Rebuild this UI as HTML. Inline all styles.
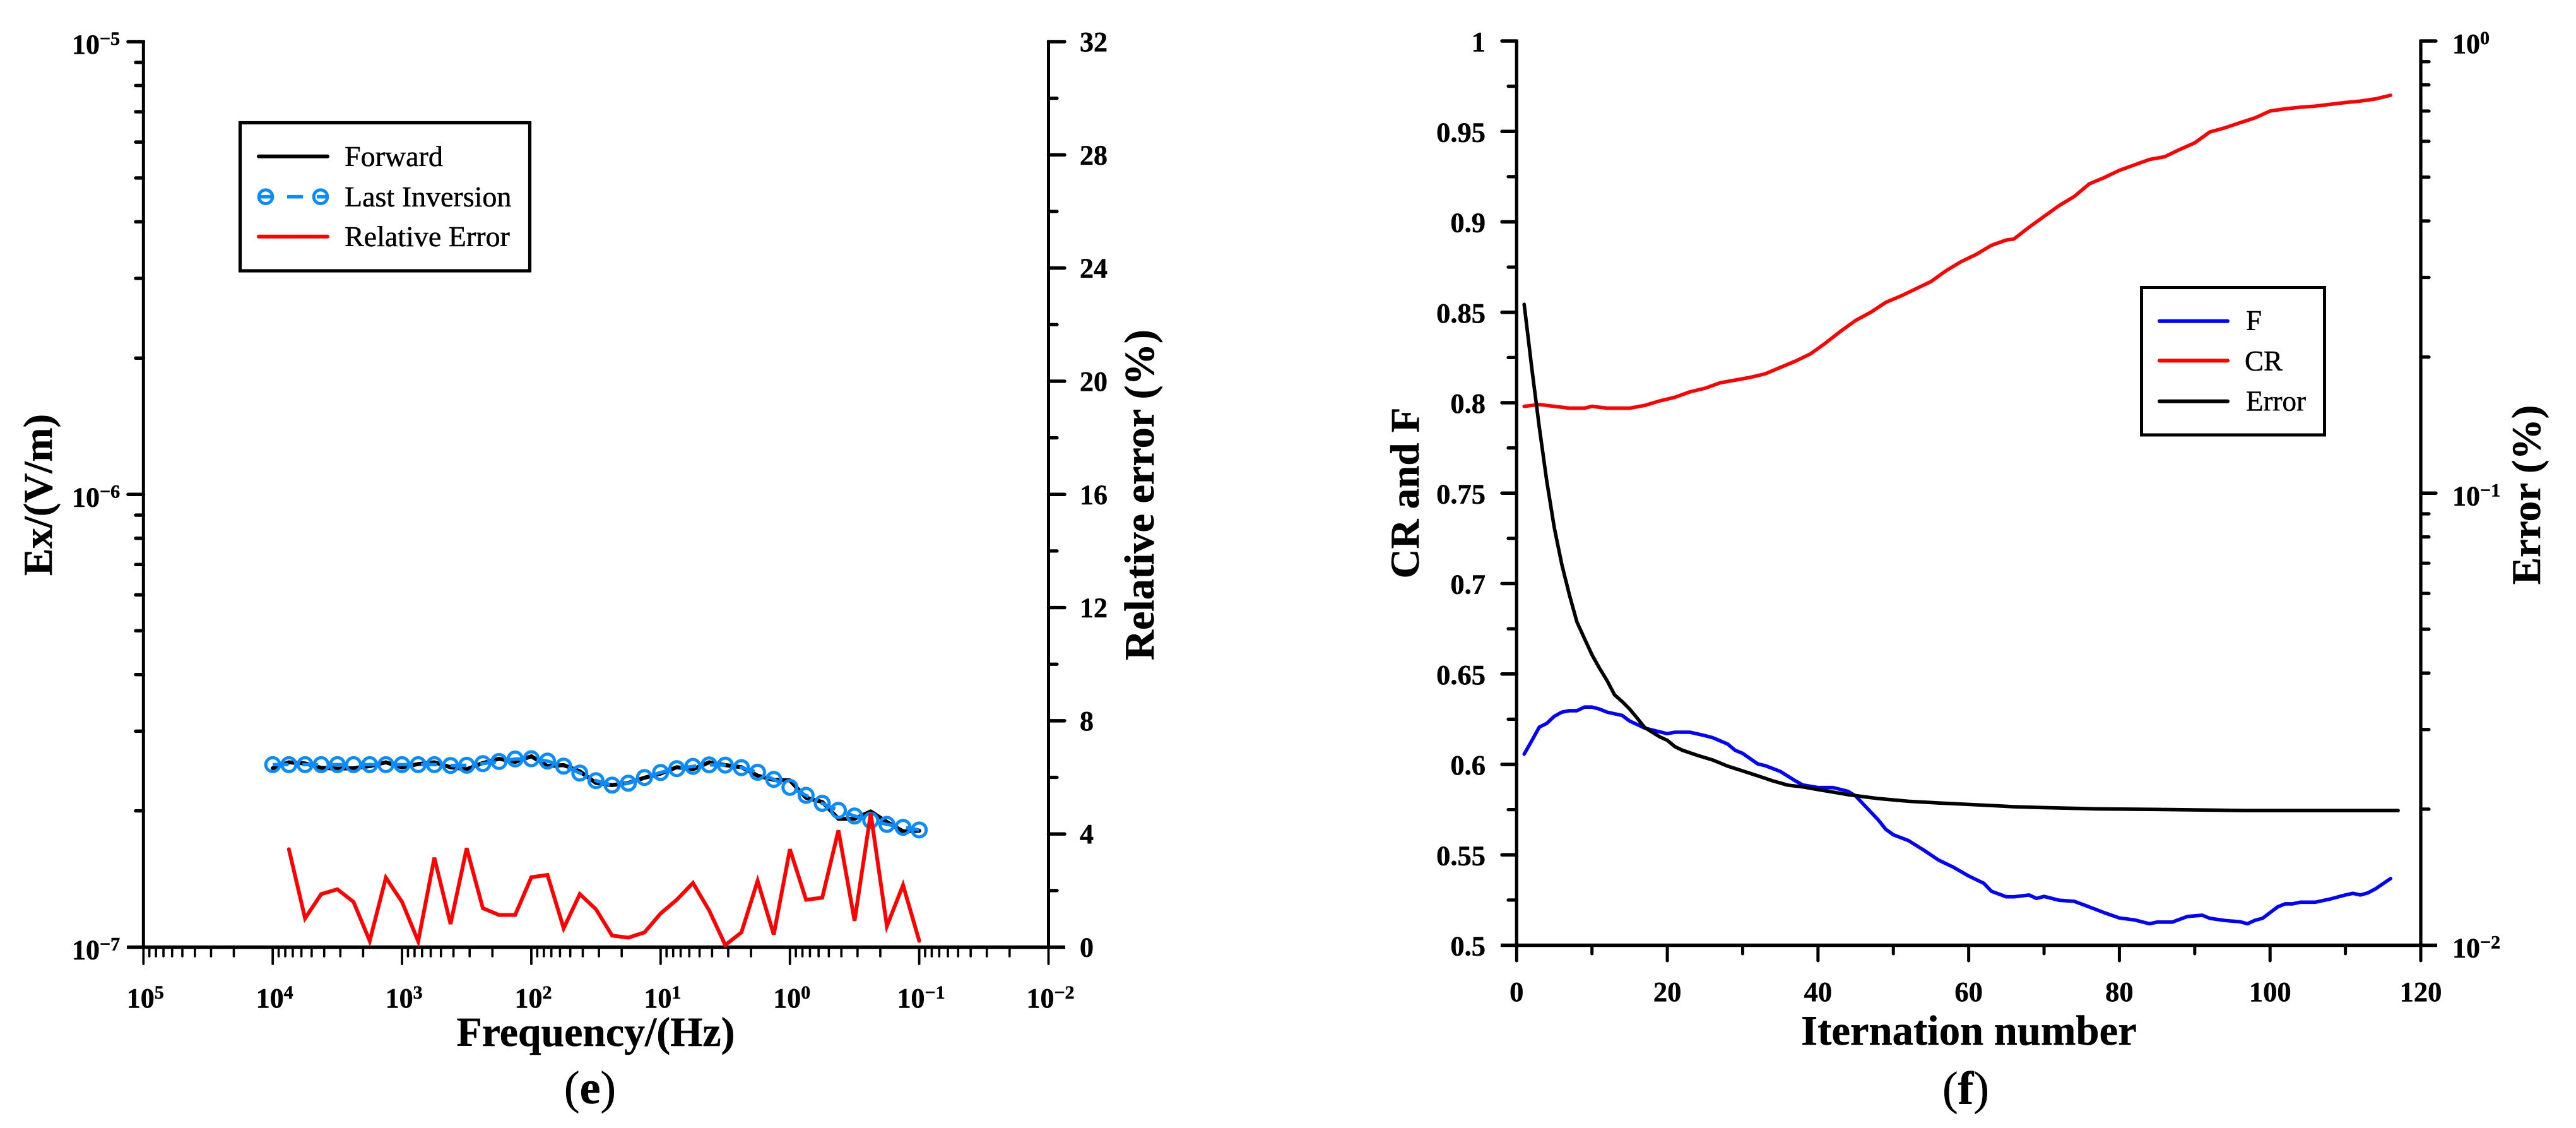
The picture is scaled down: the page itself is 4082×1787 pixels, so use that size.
<!DOCTYPE html>
<html lang="en">
<head>
<meta charset="utf-8">
<title>Inversion fit and convergence charts</title>
<style>
html,body{margin:0;padding:0;background:#fff;width:4082px;height:1787px;overflow:hidden}
svg{display:block}
text{font-family:"Liberation Serif",serif;fill:#000;stroke:#000;stroke-width:.5}
.b{font-weight:bold}
</style>
</head>
<body>
<svg id="fig" xmlns="http://www.w3.org/2000/svg" width="4082" height="1787" viewBox="0 0 4082 1787">
  <rect width="4082" height="1787" fill="#fff"/>
  <g id="panelE">
    <g id="eTicks"></g>
    <g id="eSeries"></g>
    <text class="b" x="944" y="1657" font-size="65.8" text-anchor="middle">Frequency/(Hz)</text>
    <text class="b" transform="translate(82,784) rotate(-90)" font-size="65" text-anchor="middle">Ex/(V/m)</text>
    <text class="b" transform="translate(1828,784) rotate(-90)" font-size="66.3" text-anchor="middle">Relative error (%)</text>
    <text x="935" y="1748" font-size="74" text-anchor="middle">(<tspan class="b">e</tspan>)</text>
    <g>
      <rect x="380.5" y="194.5" width="459" height="234.5" fill="#fff" stroke="#000" stroke-width="5.2"/>
      <line x1="410" y1="247.7" x2="519" y2="247.7" stroke="#000" stroke-width="6" stroke-linecap="round"/>
      <text x="546" y="263" font-size="46">Forward</text>
      <line x1="408" y1="311.7" x2="521" y2="311.7" stroke="#0a8cff" stroke-width="5.5" stroke-dasharray="25 22"/>
      <circle cx="421" cy="311.7" r="10.8" fill="none" stroke="#0a8cff" stroke-width="5"/>
      <circle cx="508" cy="311.7" r="10.8" fill="none" stroke="#0a8cff" stroke-width="5"/>
      <text x="546" y="327" font-size="46">Last Inversion</text>
      <line x1="410" y1="374.7" x2="519" y2="374.7" stroke="#f00" stroke-width="6" stroke-linecap="round"/>
      <text x="546" y="390" font-size="46">Relative Error</text>
    </g>
  </g>
  <g id="panelF">
    <g id="fTicks"></g>
    <g id="fSeries"></g>
    <text class="b" x="3120" y="1655" font-size="66.7" text-anchor="middle">Iternation number</text>
    <text class="b" transform="translate(2248,781) rotate(-90)" font-size="65" text-anchor="middle">CR and F</text>
    <text class="b" transform="translate(4025,784) rotate(-90)" font-size="65" text-anchor="middle">Error (%)</text>
    <text x="3115" y="1749" font-size="74" text-anchor="middle">(<tspan class="b">f</tspan>)</text>
    <g>
      <rect x="3393.5" y="455.5" width="290" height="233.5" fill="#fff" stroke="#000" stroke-width="5"/>
      <line x1="3422" y1="508.7" x2="3530" y2="508.7" stroke="#00f" stroke-width="6" stroke-linecap="round"/>
      <text x="3559" y="523" font-size="45">F</text>
      <line x1="3422" y1="571.4" x2="3530" y2="571.4" stroke="#f00" stroke-width="6" stroke-linecap="round"/>
      <text x="3557" y="587" font-size="45">CR</text>
      <line x1="3422" y1="635.7" x2="3530" y2="635.7" stroke="#000" stroke-width="6" stroke-linecap="round"/>
      <text x="3559" y="650.5" font-size="45">Error</text>
    </g>
  </g>
</svg>
<script>
// ---------- Panel (e) data ----------
const logFrequency = [4,3.875,3.75,3.625,3.5,3.375,3.25,3.125,3,2.875,2.75,2.625,2.5,2.375,2.25,2.125,2,1.875,1.75,1.625,1.5,1.375,1.25,1.125,1,0.875,0.75,0.625,0.5,0.375,0.25,0.125,0,-0.125,-0.25,-0.375,-0.5,-0.625,-0.75,-0.875,-1];
const forwardEx = [2.484,2.560,2.546,2.489,2.479,2.484,2.511,2.560,2.495,2.538,2.560,2.497,2.471,2.551,2.607,2.566,2.640,2.511,2.524,2.445,2.305,2.280,2.305,2.367,2.418,2.497,2.471,2.560,2.524,2.497,2.392,2.342,2.335,2.138,2.093,1.921,1.921,1.994,1.890,1.802,1.808];
const lastInversionEx = [2.530,2.530,2.530,2.530,2.530,2.530,2.530,2.530,2.530,2.530,2.530,2.519,2.522,2.543,2.571,2.604,2.607,2.576,2.511,2.424,2.332,2.280,2.302,2.370,2.431,2.479,2.508,2.527,2.524,2.492,2.434,2.347,2.254,2.164,2.078,2.005,1.948,1.905,1.867,1.839,1.815];
const relativeError = [null,3.459,1.019,1.875,2.046,1.599,0.223,2.455,1.599,0.208,3.161,0.818,3.496,1.376,1.138,1.138,2.470,2.551,0.669,1.875,1.339,0.409,0.335,0.521,1.190,1.674,2.269,1.302,0.074,0.521,2.343,0.446,3.459,1.674,1.748,4.129,0.930,4.724,0.744,2.194,0.223];
const exUnit = 1e-7;
const freqDecades = [5,4,3,2,1,0,-1,-2];
const freqDecadeLabels = ["5","4","3","2","1","0","−1","−2"];
const exDecades = [-5,-6,-7];
const exDecadeLabels = ["−5","−6","−7"];
const relErrMajor = [0,4,8,12,16,20,24,28,32];
const relErrMinor = [2,6,10,14,18,22,26,30];
const minorMultipliers = [2,3,4,5,6,7,8,9];

// ---------- Panel (f) data ----------
const crIter = [1,3,5,7,9,10,12,15,17,19,21,23,25,27,29,31,33,35,37,39,41,43,45,47,49,51,53,55,57,59,61,63,65,66,68,70,72,74,76,78,80,82,84,86,88,90,92,94,96,98,100,102,104,106,108,110,112,114,116];
const crValues = [0.798,0.799,0.798,0.797,0.797,0.798,0.797,0.797,0.7985,0.801,0.803,0.806,0.808,0.811,0.8125,0.814,0.816,0.8195,0.823,0.827,0.833,0.8395,0.8455,0.85,0.8555,0.859,0.863,0.867,0.873,0.878,0.882,0.887,0.890,0.8905,0.897,0.903,0.909,0.914,0.921,0.9245,0.9285,0.9315,0.9345,0.936,0.940,0.9437,0.9497,0.952,0.9548,0.9575,0.9613,0.9625,0.9634,0.964,0.965,0.966,0.9668,0.968,0.970];
const fIter = [1,2,3,4,5,6,7,8,9,10,11,12,14,15,17,19,20,21,23,25,26,28,29,30,32,33,35,37,38,40,42,44,45,46,48,49,50,52,54,56,58,60,62,63,65,66,68,69,70,72,74,76,78,80,82,84,85,87,89,91,92,94,96,97,98,99,101,102,103,104,106,108,110,111,112,113,114,116];
const fValues = [0.6057,0.613,0.6206,0.6227,0.6266,0.6289,0.6297,0.6297,0.6317,0.6317,0.6306,0.6289,0.6271,0.624,0.6201,0.618,0.617,0.6178,0.6178,0.6159,0.6148,0.6113,0.6078,0.6061,0.6003,0.5993,0.5961,0.5909,0.5886,0.5872,0.5872,0.5851,0.5825,0.5781,0.5693,0.5641,0.5611,0.5579,0.5527,0.5471,0.5431,0.5383,0.5343,0.5299,0.5268,0.5268,0.5278,0.5259,0.527,0.5249,0.5243,0.5212,0.518,0.5151,0.514,0.5119,0.5128,0.5128,0.5159,0.5166,0.5149,0.5137,0.513,0.5119,0.5138,0.5149,0.5212,0.5229,0.5229,0.5238,0.5238,0.5256,0.5278,0.5287,0.5278,0.529,0.5312,0.5369];
const errorIter = [1,2,3,4,5,6,7,8,9,10,11,12,13,14,15,16,17,18,19,20,21,22,24,26,28,30,32,34,36,38,40,44,48,52,56,60,66,70,77,85,97,117];
const errorValues = [0.2616,0.1897,0.1402,0.1063,0.0838,0.0695,0.0596,0.0519,0.0477,0.0439,0.0410,0.0385,0.0358,0.0346,0.0333,0.0318,0.0303,0.0296,0.0289,0.0284,0.0275,0.0270,0.0263,0.0257,0.0249,0.0243,0.0237,0.0231,0.0226,0.0224,0.0221,0.02153,0.02111,0.02082,0.02064,0.02049,0.02025,0.02016,0.02003,0.01997,0.01986,0.01986];
const iterMajor = [0,20,40,60,80,100,120];
const iterMajorLabels = ["0","20","40","60","80","100","120"];
const iterMinor = [10,30,50,70,90,110];
const crfMajor = [1,0.95,0.9,0.85,0.8,0.75,0.7,0.65,0.6,0.55,0.5];
const crfMajorLabels = ["1","0.95","0.9","0.85","0.8","0.75","0.7","0.65","0.6","0.55","0.5"];
const crfMinor = [0.975,0.925,0.875,0.825,0.775,0.725,0.675,0.625,0.575,0.525];
const errDecades = [0,-1,-2];
const errDecadeLabels = ["0","−1","−2"];

// ---------- Axis functions ----------
const E = {left:227.3,right:1661.5,top:66,bottom:1500.5};
const F = {left:2403.3,right:3836,top:65,bottom:1497.5};
function xFreq(lf){return E.left+(5-lf)/7*(E.right-E.left);}
function yEx(v){return E.bottom-(Math.log10(v)+7)/2*(E.bottom-E.top);}
function yRel(v){return E.bottom-v/32*(E.bottom-E.top);}
function xIter(i){return F.left+i/120*(F.right-F.left);}
function yCrf(v){return F.bottom-(v-0.5)/0.5*(F.bottom-F.top);}
function yErr(v){return F.bottom-(Math.log10(v)+2)/2*(F.bottom-F.top);}

const NS='http://www.w3.org/2000/svg';
const eT=document.getElementById('eTicks');
const eS=document.getElementById('eSeries');
const fT=document.getElementById('fTicks');
const fS=document.getElementById('fSeries');
function mkLine(p,x1,y1,x2,y2,w,cap){
  const l=document.createElementNS(NS,'line');
  l.setAttribute('x1',x1);l.setAttribute('y1',y1);l.setAttribute('x2',x2);l.setAttribute('y2',y2);
  l.setAttribute('stroke','#000');l.setAttribute('stroke-width',w);l.setAttribute('stroke-linecap',cap||'butt');
  p.appendChild(l);
  return l;
}
function mkText(p,x,y,size,anchor,str){
  const t=document.createElementNS(NS,'text');
  t.setAttribute('x',x);t.setAttribute('y',y);t.setAttribute('font-size',size);
  t.setAttribute('font-weight','bold');t.setAttribute('text-anchor',anchor);
  t.textContent=str;
  p.appendChild(t);
  return t;
}
function addSup(t,str){
  const s=document.createElementNS(NS,'tspan');
  s.setAttribute('font-size','30');s.setAttribute('dy','-14');
  s.textContent=str;
  t.appendChild(s);
}
function mkPoly(p,xs,ys,color,w){
  const pts=[];
  for(let i=0;i<xs.length;i++){ if(ys[i]!==null){pts.push(xs[i].toFixed(2)+','+ys[i].toFixed(2));} }
  const l=document.createElementNS(NS,'polyline');
  l.setAttribute('points',pts.join(' '));
  l.setAttribute('fill','none');l.setAttribute('stroke',color);l.setAttribute('stroke-width',w);
  l.setAttribute('stroke-linejoin','round');l.setAttribute('stroke-linecap','round');
  p.appendChild(l);
  return l;
}

// ---------- Panel (e) axes ----------
let el;
el=mkLine(eT,E.left,E.top-2.5,E.left,E.bottom,5);


el=mkLine(eT,E.right,E.top-2.5,E.right,E.bottom,5);


el=mkLine(eT,201,E.bottom,1688,E.bottom,5.6);



freqDecades.forEach(function(d,i){
  const x=xFreq(d);
  const tk=mkLine(eT,x,E.bottom,x,1527,3.8,'round');
  
  
  const lb=mkText(eT,x+3,1596,44,'middle','10');
  addSup(lb,freqDecadeLabels[i]);
  
  
  if(i<freqDecades.length-1){
    minorMultipliers.forEach(function(m){
      const mx=xFreq(d-1+Math.log10(m));
      const mt=mkLine(eT,mx,E.bottom,mx,1515,3.6,'round');
      
      
    });
  }
});
exDecades.forEach(function(d,i){
  const y=yEx(Math.pow(10,d));
  if(d>-7){
    const tk=mkLine(eT,203,y,E.left,y,5.6,'round');
    
    
  }
  const lb=mkText(eT,114,y+19,44,'start','10');
  addSup(lb,exDecadeLabels[i]);
  
  
  if(d>-7){
    minorMultipliers.forEach(function(m){
      const my=yEx(m*Math.pow(10,d-1));
      const mt=mkLine(eT,215,my,E.left,my,5.4,'round');
      
      
    });
  }
});
relErrMajor.forEach(function(v){
  const y=yRel(v);
  if(v>0){
    const tk=mkLine(eT,E.right,y,1687,y,5.4,'round');
    
    
  }
  const lb=mkText(eT,1711,y+15,44,'start',String(v));
  
  
});
relErrMinor.forEach(function(v){
  const y=yRel(v);
  const mt=mkLine(eT,E.right,y,1675,y,5.2,'round');
  
  
});

// ---------- Panel (e) series ----------
const eX=logFrequency.map(xFreq);
el=mkPoly(eS,eX,forwardEx.map(function(v){return yEx(v*exUnit);}),'#000',6.4);


el=mkPoly(eS,eX,lastInversionEx.map(function(v){return yEx(v*exUnit);}),'#0a8cff',5.4);
el.setAttribute('stroke-dasharray','25 22');
el.setAttribute('stroke-linecap','butt');


lastInversionEx.forEach(function(v,i){
  const c=document.createElementNS(NS,'circle');
  c.setAttribute('cx',eX[i]);c.setAttribute('cy',yEx(v*exUnit));c.setAttribute('r','11');
  c.setAttribute('fill','none');c.setAttribute('stroke','#0a8cff');c.setAttribute('stroke-width','5');
  
  
  eS.appendChild(c);
});
el=mkPoly(eS,eX,relativeError.map(function(v){return v===null?null:yRel(v);}),'#f00',6);
el.setAttribute('stroke-linejoin','miter');



// ---------- Panel (f) axes ----------
el=mkLine(fT,F.left,F.top-2.5,F.left,F.bottom,5.2);


el=mkLine(fT,F.right,F.top-2.5,F.right,F.bottom,5.2);


el=mkLine(fT,2378,F.bottom,3862,F.bottom,5.4);



iterMajor.forEach(function(v,i){
  const x=xIter(v);
  const tk=mkLine(fT,x,F.bottom,x,1522,5,'round');
  
  
  const lb=mkText(fT,x,1586,44.5,'middle',iterMajorLabels[i]);
  
  
});
iterMinor.forEach(function(v){
  const x=xIter(v);
  const tk=mkLine(fT,x,F.bottom,x,1511,5,'round');
  
  
});
crfMajor.forEach(function(v,i){
  const y=yCrf(v);
  if(v>0.5){
    const tk=mkLine(fT,2380,y,F.left,y,5.4,'round');
    
    
  }
  const lb=mkText(fT,2354,y+16,44.5,'end',crfMajorLabels[i]);
  
  
});
crfMinor.forEach(function(v){
  const y=yCrf(v);
  const tk=mkLine(fT,2390,y,F.left,y,5.2,'round');
  
  
});
errDecades.forEach(function(d,i){
  const y=yErr(Math.pow(10,d));
  if(d>-2){
    const tk=mkLine(fT,F.right,y,3860,y,5.4,'round');
    
    
  }
  const lb=mkText(fT,3886,y+19,44,'start','10');
  addSup(lb,errDecadeLabels[i]);
  
  
  if(d>-2){
    minorMultipliers.forEach(function(m){
      const my=yErr(m*Math.pow(10,d-1));
      const mt=mkLine(fT,F.right,my,3849,my,5.2,'round');
      
      
    });
  }
});

// ---------- Panel (f) series ----------
el=mkPoly(fS,fIter.map(xIter),fValues.map(yCrf),'#00f',5.6);


el=mkPoly(fS,crIter.map(xIter),crValues.map(yCrf),'#f00',5.6);


el=mkPoly(fS,errorIter.map(xIter),errorValues.map(yErr),'#000',5.6);


</script>
</body>
</html>
